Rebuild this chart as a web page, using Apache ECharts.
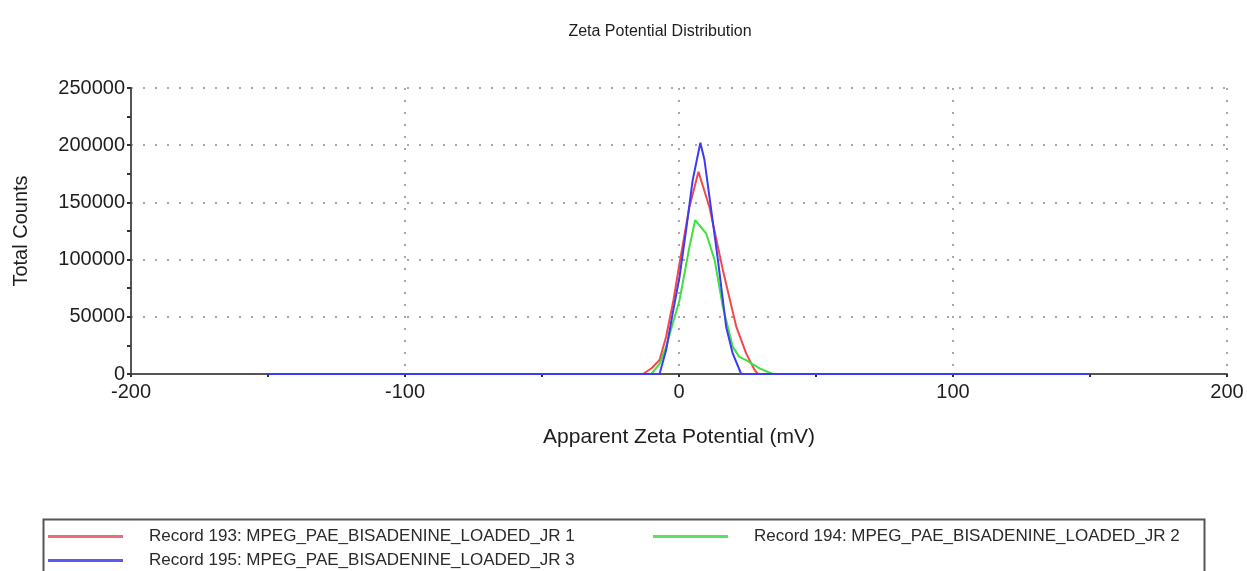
<!DOCTYPE html>
<html>
<head>
<meta charset="utf-8">
<title>Zeta Potential Distribution</title>
<script src="https://cdn.jsdelivr.net/npm/echarts@6/dist/echarts.min.js"></script>
<style>
  html, body { margin: 0; padding: 0; background: #fff; }
  #chart { width: 1247px; height: 571px; }
</style>
</head>
<body>
<div id="chart"></div>
<script>
// values (x in mV, y in total counts)
const redX = [-150, -13.2, -10, -7.1, -4.7, -2, 0.2, 3.8, 7.1, 11.1, 16, 20.9, 24.5, 27.6, 28.9, 150];
const redY = [0, 0, 5000, 12200, 32600, 65000, 96800, 146000, 176800, 146000, 91000, 41400, 18000, 3500, 0, 0];

const greenX = [-150, -10.1, -7, -4.7, 0.2, 3.8, 5.9, 9.9, 13, 16, 19.6, 22, 24.5, 29.4, 34.2, 150];
const greenY = [0, 0, 9000, 23900, 64700, 111000, 134600, 123000, 99700, 58800, 23900, 15000, 12200, 4900, 0, 0];

const blueX = [-150, -7.1, -4.7, -2.3, 0.2, 2.6, 5.0, 7.8, 9.3, 11.1, 14.2, 17.2, 19.6, 22.7, 150];
const blueY = [0, 0, 21000, 53000, 85000, 126000, 169600, 202200, 187000, 155000, 99700, 41400, 18000, 0, 0];

const seriesNames = [
    'Record 193: MPEG_PAE_BISADENINE_LOADED_JR 1',
    'Record 194: MPEG_PAE_BISADENINE_LOADED_JR 2',
    'Record 195: MPEG_PAE_BISADENINE_LOADED_JR 3'
];
const seriesColors = ['#f24848', '#3fe03f', '#3c3cf5'];
const legendColors = ['#f06a78', '#60e060', '#5a5af0'];

function zip(xs, ys) {
    return xs.map((x, i) => [x, ys[i]]);
}

const fontFamily = '"Liberation Sans", Arial, sans-serif';
const textColor = '#1e1e1e';
const dotted = { color: '#a8a8a8', width: 2, type: [2, 10] };

var chart = echarts.init(document.getElementById('chart'));

function legendAt(idx, left, top) {
    return {
        data: [{ name: seriesNames[idx], itemStyle: { color: legendColors[idx] } }],
        left: left,
        top: top,
        icon: 'rect',
        itemWidth: 75,
        itemHeight: 3,
        selectedMode: false,
        textStyle: {
            fontFamily: fontFamily,
            fontSize: 17,
            color: '#2a2a2a',
            padding: [0, 0, 0, 21]
        }
    };
}

var option = {
    animation: false,
    title: {
        text: 'Zeta Potential Distribution',
        left: 655,
        textAlign: 'center',
        top: 19,
        textStyle: { fontFamily: fontFamily, fontSize: 16, fontWeight: 'normal', color: textColor }
    },
    legend: [
        legendAt(0, 43, 523),
        legendAt(1, 648, 523),
        legendAt(2, 43, 547)
    ],
    graphic: [{
        type: 'rect',
        left: 41,
        top: 517,
        shape: { width: 1161, height: 70 },
        style: { fill: 'none', stroke: '#555', lineWidth: 2 }
    }],
    grid: {
        left: 131,
        right: 20,
        top: 88,
        bottom: 197
    },
    xAxis: {
        type: 'value',
        min: -200,
        max: 200,
        interval: 100,
        name: 'Apparent Zeta Potential (mV)',
        nameLocation: 'middle',
        nameGap: 53,
        nameTextStyle: { fontFamily: fontFamily, fontSize: 21, color: textColor },
        axisLine: { onZero: false, lineStyle: { color: '#555', width: 2 } },
        axisTick: { show: true, length: 3, lineStyle: { color: '#333', width: 2 } },
        minorTick: { show: true, splitNumber: 2, length: 3, lineStyle: { color: '#333', width: 2 } },
        axisLabel: { fontFamily: fontFamily, fontSize: 20, color: textColor, margin: 8 },
        splitLine: { show: true, lineStyle: dotted }
    },
    yAxis: {
        type: 'value',
        min: 0,
        max: 250000,
        interval: 50000,
        name: 'Total Counts',
        nameLocation: 'middle',
        nameGap: 100,
        nameTextStyle: { fontFamily: fontFamily, fontSize: 20, color: textColor },
        axisLine: { show: true, onZero: false, lineStyle: { color: '#555', width: 2 } },
        axisTick: { show: true, length: 4, lineStyle: { color: '#333', width: 2 } },
        minorTick: { show: true, splitNumber: 2, length: 4, lineStyle: { color: '#333', width: 2 } },
        axisLabel: {
            fontFamily: fontFamily, fontSize: 20, color: textColor, margin: 6,
            formatter: v => String(v)
        },
        splitLine: { show: true, lineStyle: dotted }
    },
    series: [
        { name: seriesNames[0], data: zip(redX, redY), color: seriesColors[0] },
        { name: seriesNames[1], data: zip(greenX, greenY), color: seriesColors[1] },
        { name: seriesNames[2], data: zip(blueX, blueY), color: seriesColors[2] }
    ].map(s => ({
        name: s.name,
        type: 'line',
        data: s.data,
        showSymbol: false,
        lineStyle: { color: s.color, width: 2 },
        itemStyle: { color: s.color }
    }))
};

chart.setOption(option);
</script>
</body>
</html>
